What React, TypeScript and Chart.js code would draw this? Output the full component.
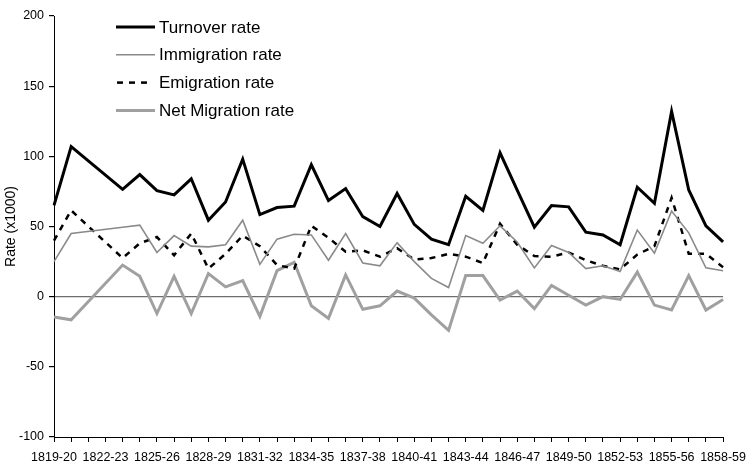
import { useEffect, useRef } from 'react';
import { Chart, registerables } from 'chart.js';

Chart.register(...registerables);

const periods = [
  '1819-20', '1820-21', '1821-22', '1822-23', '1823-24', '1824-25', '1825-26', '1826-27',
  '1827-28', '1828-29', '1829-30', '1830-31', '1831-32', '1832-33', '1833-34', '1834-35',
  '1835-36', '1836-37', '1837-38', '1838-39', '1839-40', '1840-41', '1841-42', '1842-43',
  '1843-44', '1844-45', '1845-46', '1846-47', '1847-48', '1848-49', '1849-50', '1850-51',
  '1851-52', '1852-53', '1853-54', '1854-55', '1855-56', '1856-57', '1857-58', '1858-59',
];

const turnoverRate = [
  65, 107, null, null, 76.5, 87, 75.5, 72.5, 84, 54.5,
  67.5, 98, 58.5, 63.5, 64.5, 94, 68.5, 77, 57, 50,
  73.5, 51.5, 41, 37, 71.5, 61.5, 102.5, 76, 49.5, 65,
  64, 46, 44, 37, 78, 66.5, 132, 76, 50.5, 39,
];

const immigrationRate = [
  25, 45, null, null, 49.5, 51, 31.5, 43.5, 36, 35.5,
  37, 54.5, 23, 41, 44.5, 44, 26, 45, 24, 22,
  38.5, 25, 13, 6.5, 43.5, 38, 50.5, 39, 20.5, 36.5,
  31.5, 20, 22, 18, 47.5, 31, 61, 45.5, 20.5, 18.5,
];

const emigrationRate = [
  40, 61.5, null, null, 27.5, 38, 42.5, 29.5, 45, 20,
  30.5, 43.5, 36, 22.5, 20, 50.5, 42, 32, 33, 28.5,
  34.5, 26.5, 27.5, 30.5, 28.5, 24, 52, 37, 29, 28.5,
  31.5, 26, 22, 19.5, 30, 36, 70.5, 30.5, 30.5, 21,
];

const netMigrationRate = [
  -14.5, -16.5, null, null, 22.5, 14.5, -12, 14.5, -12, 16.5,
  7, 11.5, -14, 18.5, 24.5, -6.5, -15.5, 15.5, -9, -6.5,
  4, -1, -13, -24, 15, 15, -2.5, 4, -8.5, 8,
  1, -6, 0, -2, 17.5, -6, -9.5, 15, -9.5, -2,
];

const yMin = -100;
const yMax = 200;
const yStep = 50;
const labelEvery = 3;

const FONT = "'Liberation Sans', Arial, sans-serif";

const insideLegend = {
  id: 'insideLegend',
  afterDraw(chart: any) {
    const { ctx, chartArea } = chart;
    const x0 = chartArea.left + 62;
    const y0 = chartArea.top + 11;
    const rowH = 27.8;
    ctx.save();
    chart.data.datasets.forEach((ds: any, i: number) => {
      const y = y0 + i * rowH;
      ctx.beginPath();
      ctx.strokeStyle = ds.borderColor;
      ctx.lineWidth = ds.borderWidth;
      const dashed = ds.borderDash && ds.borderDash.length;
      ctx.setLineDash(dashed ? ds.borderDash : []);
      ctx.moveTo(x0 + (dashed ? 1 : 0), y);
      ctx.lineTo(x0 + (dashed ? 31 : 39), y);
      ctx.stroke();
      ctx.setLineDash([]);
      ctx.fillStyle = '#000';
      ctx.font = `17px ${FONT}`;
      ctx.textBaseline = 'middle';
      ctx.textAlign = 'left';
      ctx.fillText(ds.label, x0 + 43, y + 1);
    });
    ctx.restore();
  },
};

export default function App() {
  const canvasRef = useRef<HTMLCanvasElement | null>(null);

  useEffect(() => {
    document.body.style.margin = '0';
    const canvas = canvasRef.current;
    if (!canvas) return;
    const chart = new Chart(canvas, {
      type: 'line',
      data: {
        labels: periods,
        datasets: [
          {
            label: 'Turnover rate',
            data: turnoverRate,
            borderColor: '#000000',
            borderWidth: 3,
            pointRadius: 0,
            tension: 0,
            spanGaps: true,
          },
          {
            label: 'Immigration rate',
            data: immigrationRate,
            borderColor: '#8a8a8a',
            borderWidth: 1.6,
            pointRadius: 0,
            tension: 0,
            spanGaps: true,
          },
          {
            label: 'Emigration rate',
            data: emigrationRate,
            borderColor: '#000000',
            borderWidth: 2.5,
            borderDash: [6, 6],
            pointRadius: 0,
            tension: 0,
            spanGaps: true,
          },
          {
            label: 'Net Migration rate',
            data: netMigrationRate,
            borderColor: '#a0a0a0',
            borderWidth: 3,
            pointRadius: 0,
            tension: 0,
            spanGaps: true,
          },
        ],
      },
      options: {
        responsive: false,
        animation: false,
        devicePixelRatio: 1,
        layout: { padding: { top: 16, right: 24, left: 0, bottom: 0 } },
        plugins: {
          legend: { display: false },
          tooltip: { enabled: false },
        },
        scales: {
          x: {
            type: 'category',
            offset: false,
            border: { color: '#000', width: 1 },
            grid: {
              drawOnChartArea: false,
              drawTicks: true,
              tickLength: 5,
              color: '#000',
            },
            ticks: {
              autoSkip: false,
              maxRotation: 0,
              minRotation: 0,
              padding: 8,
              color: '#000',
              font: { family: FONT, size: 12.5 },
              callback: (_v: any, i: number) => (i % labelEvery === 0 ? periods[i] : ''),
            },
            afterFit: (s: any) => {
              s.height = 26;
            },
          },
          y: {
            min: yMin,
            max: yMax,
            border: { color: '#000', width: 1 },
            grid: {
              drawOnChartArea: true,
              drawTicks: true,
              tickLength: 5,
              tickColor: '#000',
              lineWidth: 1.2,
              color: (c: any) => (c.tick && c.tick.value === 0 ? '#6e6e6e' : 'rgba(0,0,0,0)'),
            },
            ticks: {
              stepSize: yStep,
              padding: 5,
              color: '#000',
              font: { family: FONT, size: 12.5 },
            },
            title: {
              display: true,
              text: 'Rate (x1000)',
              color: '#000',
              font: { family: FONT, size: 14 },
              padding: { top: 3, bottom: 0 },
            },
            afterFit: (s: any) => {
              s.width = 54;
            },
          },
        },
      },
      plugins: [insideLegend],
    });
    return () => chart.destroy();
  }, []);

  return (
    <div style={{ width: 754, height: 463 }}>
      <canvas ref={canvasRef} width={754} height={463} style={{ display: 'block' }} />
    </div>
  );
}
